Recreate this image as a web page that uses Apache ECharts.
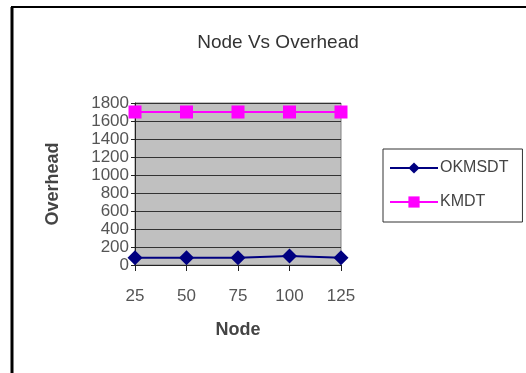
<!DOCTYPE html>
<html><head><meta charset="utf-8">
<script src="https://cdn.jsdelivr.net/npm/echarts@6/dist/echarts.min.js"></script>
<style>html,body{margin:0;padding:0;background:#fff}#c{width:526px;height:373px}</style>
</head><body><div id="c"></div>
<script>
const categories = ['25','50','75','100','125'];
const okmsdt = [80, 80, 80, 100, 80];
const kmdt = [1700, 1700, 1700, 1700, 1700];
const yTicks = [0, 200, 400, 600, 800, 1000, 1200, 1400, 1600, 1800];

const chart = echarts.init(document.getElementById('c'), null, {renderer: 'canvas'});
const font = 'Arial, "Liberation Sans", sans-serif';
chart.setOption({
  animation: false,
  backgroundColor: '#fff',
  title: {
    text: 'Node Vs Overhead', left: 273, top: 28, textAlign: 'center',
    textStyle: {fontFamily: font, fontSize: 19, fontWeight: 'normal', color: '#333'}
  },
  graphic: [
    {type: 'line', shape: {x1: 12, y1: 7, x2: 12, y2: 373}, style: {stroke: '#000', lineWidth: 3}},
    {type: 'line', shape: {x1: 11, y1: 7, x2: 526, y2: 7}, style: {stroke: '#000', lineWidth: 2}}
  ],
  legend: {
    orient: 'vertical', left: 383, top: 149,
    padding: [11, 14, 12, 6], itemGap: 18,
    borderColor: '#333', borderWidth: 1,
    itemWidth: 48, itemHeight: 14,
    textStyle: {fontFamily: font, fontSize: 16, color: '#444', padding: [0,0,0,-3]},
    data: ['OKMSDT', 'KMDT']
  },
  grid: {left: 135, right: 185, top: 103, bottom: 108, show: true, backgroundColor: '#C0C0C0', borderColor: '#808080', borderWidth: 1},
  xAxis: {
    type: 'category', data: categories, boundaryGap: false,
    name: 'Node', nameLocation: 'middle', nameGap: 56,
    nameTextStyle: {fontFamily: font, fontSize: 18, fontWeight: 'bold', color: '#444'},
    axisLine: {lineStyle: {color: '#222', width: 1}},
    axisTick: {show: true, length: 6, lineStyle: {color: '#222'}, alignWithLabel: true},
    axisLabel: {fontFamily: font, fontSize: 17, color: '#555', margin: 23}
  },
  yAxis: {
    type: 'value', min: yTicks[0], max: yTicks[yTicks.length-1], interval: 200,
    name: 'Overhead', nameLocation: 'middle', nameGap: 73,
    nameTextStyle: {fontFamily: font, fontSize: 18, fontWeight: 'bold', color: '#444'},
    axisLine: {show: true, lineStyle: {color: '#222'}},
    axisTick: {show: true, length: 4, lineStyle: {color: '#222'}},
    axisLabel: {fontFamily: font, fontSize: 17, color: '#555', margin: 6, formatter: v => String(v)},
    splitLine: {lineStyle: {color: '#333', width: 1}}
  },
  series: [
    {name: 'OKMSDT', type: 'line', data: okmsdt, symbol: 'diamond', symbolSize: 15,
     itemStyle: {color: '#000080'}, lineStyle: {color: '#000080', width: 2}},
    {name: 'KMDT', type: 'line', data: kmdt, symbol: 'rect', symbolSize: 13,
     itemStyle: {color: '#FF00FF'}, lineStyle: {color: '#FF00FF', width: 2}}
  ]
});
</script></body></html>
